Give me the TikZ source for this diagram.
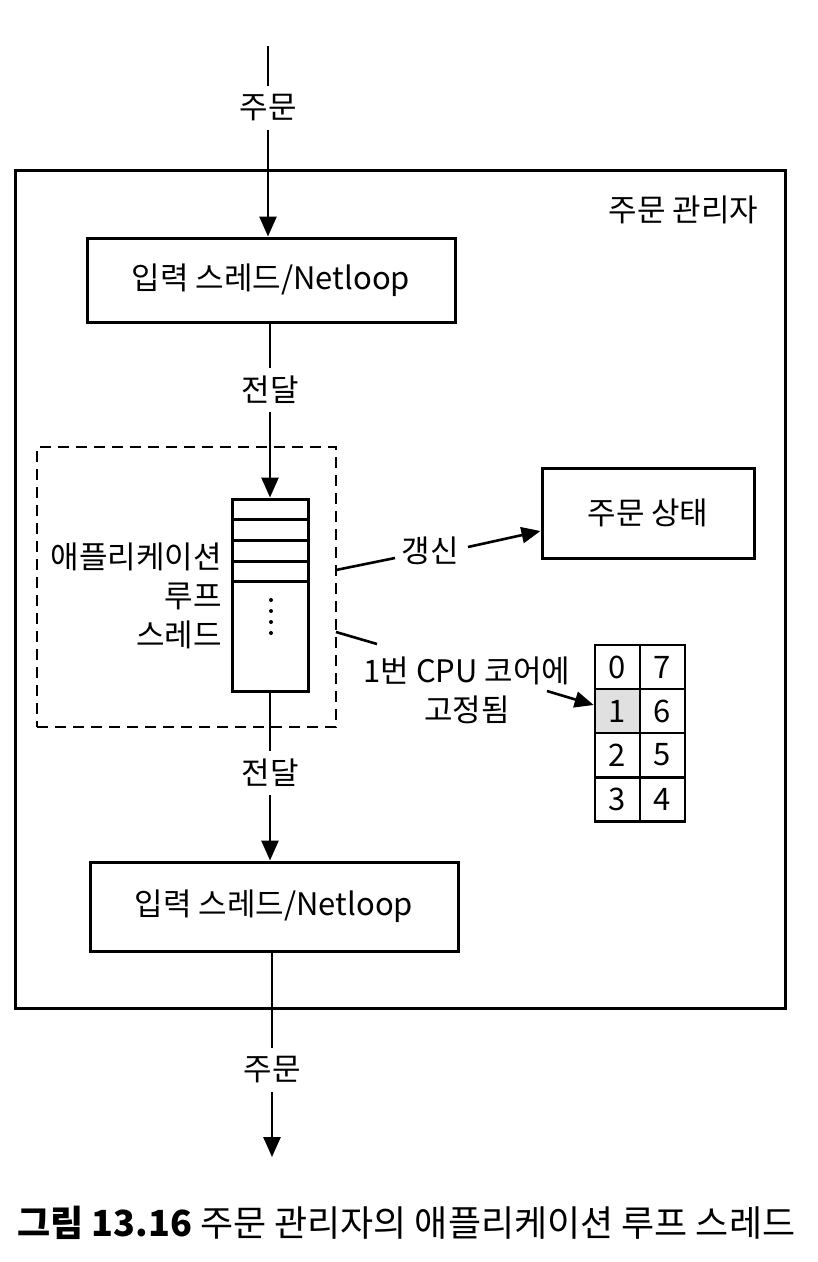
\documentclass[tikz,border=0pt]{standalone}
\usepackage{fontspec}
\setmainfont{Noto Sans CJK KR}
\usetikzlibrary{arrows.meta}
\begin{document}
\begin{tikzpicture}[x=1pt,y=-1pt,
  every node/.style={font=\fontsize{31}{37}\selectfont},
  frame/.style={draw,line width=3pt},
  boxnode/.style={draw,line width=3pt,minimum width=368pt,minimum height=84pt,inner sep=0pt},
  lbl/.style={inner sep=0pt,minimum height=44pt,minimum width=50pt},
  conn/.style={line width=2.6pt},
  arr/.style={line width=2.6pt,-{Triangle[width=17pt,length=20pt]}},
  cell/.style={draw,line width=2.6pt,minimum width=45pt,minimum height=44pt,inner sep=0pt}
]
\useasboundingbox (0,0) rectangle (818,1262);

% outer frame
\draw[frame] (15,170) rectangle (785,1008);
\node[anchor=east] (mgr) at (762,210) {주문 관리자};

% input boxes
\node[boxnode] (in1) at (271,280) {입력 스레드/Netloop};
\node[boxnode,minimum height=89pt] (in2) at (274,906.5) {입력 스레드/Netloop};

% queue
\node[draw,line width=3pt,minimum width=76pt,minimum height=192pt,inner sep=0pt] (q) at (270,595) {};
\foreach \yy in {519,540,561,581} \draw[line width=3pt] (232,\yy) -- (308,\yy);
\foreach \yy in {600,611,622,633} \fill (271,\yy) circle (2pt);

% dashed application loop box
\node[draw,line width=2.8pt,dash pattern=on 11pt off 7pt,minimum width=299pt,minimum height=280pt,inner sep=0pt] (app) at (186.5,587) {};
\node[anchor=east,align=right,inner sep=0pt,font=\fontsize{31}{39}\selectfont] (applbl) at (222,596) {애플리케이션\\루프\\스레드};

% order state
\node[draw,line width=3pt,minimum width=212pt,minimum height=90pt,inner sep=0pt] (state) at (648,513) {주문 상태};
\node[inner sep=6pt] (upd) at (430,551) {갱신};
\coordinate (updl) at (336,570);
\draw[conn] (updl) -- (395,558);
\draw[arr,-{Triangle[width=16pt,length=19pt]}] (468,547) -- (state.west |- 0,531);

% CPU pinning
\node[align=center,inner sep=0pt,font=\fontsize{31}{39}\selectfont] (pin) at (467,690) {1번 CPU 코어에\\고정됨};
\coordinate (pinl) at (336,632);
\draw[conn] (pinl) -- (377,644);

\node[cell] (c0) at (617.5,667) {0};
\node[cell] (c7) at (662.5,667) {7};
\node[cell,fill=black!12] (c1) at (617.5,711) {1};
\node[cell] (c6) at (662.5,711) {6};
\node[cell] (c2) at (617.5,755) {2};
\node[cell] (c5) at (662.5,755) {5};
\node[cell] (c3) at (617.5,799.5) {3};
\node[cell] (c4) at (662.5,799.5) {4};
\draw[arr,-{Triangle[width=16pt,length=19pt]}] (547,691) -- (c1.west |- 0,705);

% vertical flow
\coordinate (top) at (268,46);
\node[lbl] (o1) at (268,108) {주문};
\draw[conn] (top) -- (o1.north);
\draw[arr] (o1.south) -- (in1.north -| o1);

\node[lbl] (f1) at (270,390) {전달};
\draw[conn] (in1.south -| f1) -- (f1.north);
\draw[arr] (f1.south) -- (q.north -| f1);

\node[lbl] (f2) at (270,773) {전달};
\draw[conn] (q.south -| f2) -- (f2.north);
\draw[arr] (f2.south) -- (in2.north -| f2);

\node[lbl] (o2) at (272,1070) {주문};
\coordinate (bot) at (272,1157);
\draw[conn] (in2.south -| o2) -- (o2.north);
\draw[arr] (o2.south) -- (bot);

% caption
\node[anchor=west,inner sep=0pt,font=\fontsize{36}{40}\selectfont] (cap) at (17,1223) {\textbf{그림 13.16} 주문 관리자의 애플리케이션 루프 스레드};
\end{tikzpicture}
\end{document}
